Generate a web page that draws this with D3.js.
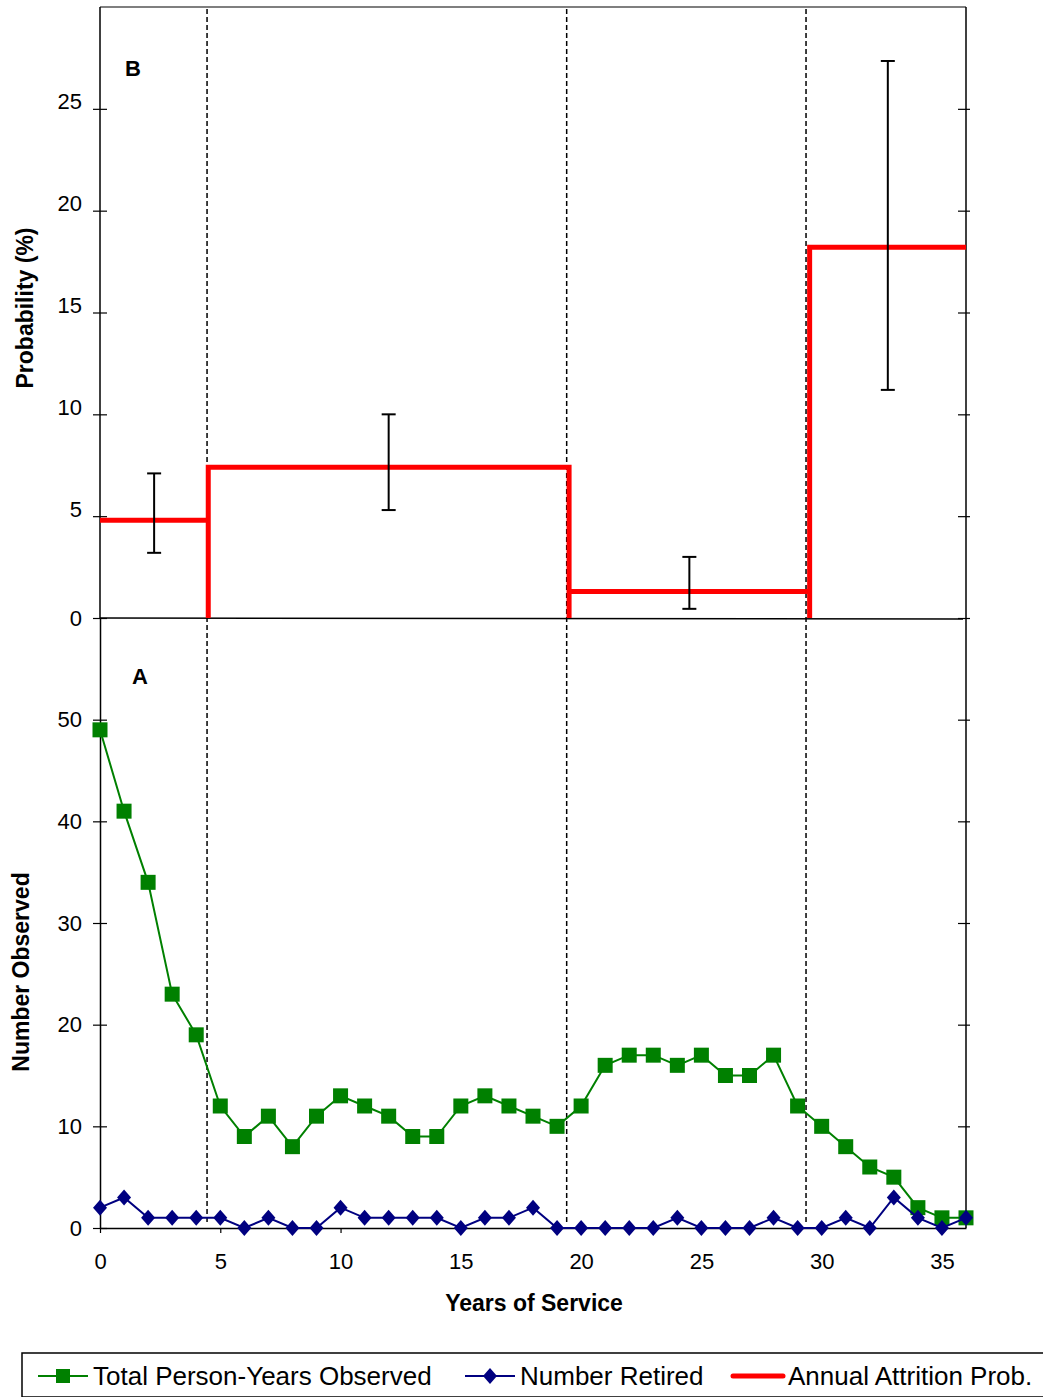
<!DOCTYPE html>
<html><head><meta charset="utf-8">
<script src="https://cdn.jsdelivr.net/npm/d3@7"></script>
<style>
html,body{margin:0;padding:0;background:#fff;}
svg{display:block;font-family:"Liberation Sans",Arial,sans-serif;}
</style></head>
<body>
<svg id="c" width="1043" height="1397"></svg>
<script>
// ---- data ----
const years = [0,1,2,3,4,5,6,7,8,9,10,11,12,13,14,15,16,17,18,19,20,21,22,23,24,25,26,27,28,29,30,31,32,33,34,35,36];
const personYears = [49,41,34,23,19,12,9,11,8,11,13,12,11,9,9,12,13,12,11,10,12,16,17,17,16,17,15,15,17,12,10,8,6,5,2,1,1];
const retired = [2,3,1,1,1,1,0,1,0,0,2,1,1,1,1,0,1,1,2,0,0,0,0,0,1,0,0,0,1,0,0,1,0,3,1,0,1];
const intervalStart = [0,4.5,19.5,29.5];
const intervalEnd = [4.5,19.5,29.5,36];
const attrition = [4.8,7.4,1.3,18.2];
const ciLow = [3.2,5.3,0.45,11.2];
const ciHigh = [7.1,10.0,3.0,27.35];
const dividers = [4.45,19.4,29.35];
const probTicks = [0,5,10,15,20,25];
const countTicks = [0,10,20,30,40,50];
const yearTicks = [0,5,10,15,20,25,30,35];
const legendLabels = ["Total Person-Years Observed","Number Retired","Annual Attrition Prob."];

// ---- scales ----
const svg = d3.select("#c");
const x = d3.scaleLinear().domain([0,36]).range([100,966]);
const yTop = d3.scaleLinear().domain([0,30]).range([618,7]);
const yBot = d3.scaleLinear().domain([0,60]).range([1228,618]);
const GREEN = "#008000", NAVY = "#000080", RED = "#ff0000";
const TICKFONT = 22;

// frame lines
svg.append("line").attr("x1",x(0)).attr("x2",x(36)).attr("y1",yTop(30)).attr("y2",yTop(30)).attr("stroke","#000").attr("stroke-width",1.2);
svg.append("line").attr("x1",x(36)).attr("x2",x(36)).attr("y1",yTop(30)).attr("y2",yBot(0)).attr("stroke","#000").attr("stroke-width",1.5);

function styleAxis(g){
  g.select(".domain").attr("stroke","#000").attr("stroke-width",1.5);
  g.selectAll(".tick line").attr("stroke","#000").attr("stroke-width",1.2);
  g.selectAll(".tick text").attr("font-size",TICKFONT).attr("fill","#000").attr("font-family","Liberation Sans, Arial, sans-serif");
}
const axTop = svg.append("g").attr("transform",`translate(${x(0)},0)`)
  .call(d3.axisLeft(yTop).tickValues(probTicks).tickSize(7).tickSizeOuter(0).tickPadding(11));
styleAxis(axTop);
axTop.selectAll(".tick line").attr("x1",7);
axTop.selectAll(".tick text").attr("y",d=> d===0?0:-7);
axTop.select(".domain").attr("d",`M0,${yTop(30)}V${yTop(0)}`);

const axBot = svg.append("g").attr("transform",`translate(${x(0)},0)`)
  .call(d3.axisLeft(yBot).tickValues(countTicks).tickSize(7).tickSizeOuter(0).tickPadding(11));
styleAxis(axBot);
axBot.selectAll(".tick line").attr("x1",7);

// right axis ticks
const rTop = svg.append("g").attr("transform",`translate(${x(36)},0)`)
  .call(d3.axisRight(yTop).tickValues(probTicks).tickSize(4).tickSizeOuter(0).tickFormat(""));
styleAxis(rTop); rTop.select(".domain").remove(); rTop.selectAll(".tick line").attr("x1",-8);
const rBot = svg.append("g").attr("transform",`translate(${x(36)},0)`)
  .call(d3.axisRight(yBot).tickValues(countTicks.filter(d=>d>0)).tickSize(4).tickSizeOuter(0).tickFormat(""));
styleAxis(rBot); rBot.select(".domain").remove(); rBot.selectAll(".tick line").attr("x1",-8);

const axX = svg.append("g").attr("transform",`translate(0,${yBot(0)})`)
  .call(d3.axisBottom(x).tickValues(yearTicks).tickSize(5).tickSizeOuter(0).tickPadding(20));
styleAxis(axX);

// top panel baseline
svg.append("line").attr("x1",x(0)).attr("x2",x(36)-3).attr("y1",yTop(0)).attr("y2",yTop(0)+1).attr("stroke","#000").attr("stroke-width",1.5);

// dividers
svg.append("g").selectAll("line").data(dividers).join("line")
  .attr("x1",d=>x(d)).attr("x2",d=>x(d)).attr("y1",yTop(30)+2).attr("y2",yBot(0)-6)
  .attr("stroke","#000").attr("stroke-width",1.5).attr("stroke-dasharray","5,3");

// red step line (verticals only where a step rises from zero)
const redG = svg.append("g");
attrition.forEach((v,i)=>{
  let pts;
  if (i % 2 === 1) pts = [[intervalStart[i],0],[intervalStart[i],v],[intervalEnd[i],v],[intervalEnd[i],0]];
  else if (i === attrition.length-1) pts = [[intervalStart[i],0],[intervalStart[i],v],[intervalEnd[i],v]];
  else pts = [[intervalStart[i],v],[intervalEnd[i],v]];
  if (i === attrition.length-1 && i % 2 === 1) pts = pts.slice(0,3);
  redG.append("path").attr("d",d3.line().x(d=>x(d[0])).y(d=>yTop(d[1]))(pts))
    .attr("fill","none").attr("stroke",RED).attr("stroke-width",5).attr("stroke-linejoin","miter");
});

// error bars
const eb = svg.append("g").attr("stroke","#000").attr("stroke-width",2);
attrition.forEach((v,i)=>{
  const cx = x((intervalStart[i]+intervalEnd[i])/2);
  eb.append("line").attr("x1",cx).attr("x2",cx).attr("y1",yTop(ciLow[i])).attr("y2",yTop(ciHigh[i]));
  eb.append("line").attr("x1",cx-7).attr("x2",cx+7).attr("y1",yTop(ciLow[i])).attr("y2",yTop(ciLow[i]));
  eb.append("line").attr("x1",cx-7).attr("x2",cx+7).attr("y1",yTop(ciHigh[i])).attr("y2",yTop(ciHigh[i]));
});

// green series
const lineG = d3.line().x((d,i)=>x(years[i])).y(d=>yBot(d));
svg.append("path").attr("d",lineG(personYears)).attr("fill","none").attr("stroke",GREEN).attr("stroke-width",2);
svg.append("g").selectAll("rect").data(personYears).join("rect")
  .attr("x",(d,i)=>x(years[i])-7.5).attr("y",d=>yBot(d)-7.5).attr("width",15).attr("height",15).attr("fill",GREEN);

// navy series
svg.append("path").attr("d",lineG(retired)).attr("fill","none").attr("stroke",NAVY).attr("stroke-width",2);
const diamond = "M0,-8L7,0L0,8L-7,0Z";
svg.append("g").selectAll("path").data(retired).join("path")
  .attr("d",diamond).attr("transform",(d,i)=>`translate(${x(years[i])},${yBot(d)})`).attr("fill",NAVY);

// labels
svg.append("text").attr("x",133).attr("y",76).attr("text-anchor","middle").attr("font-weight","bold").attr("font-size",22).text("B");
svg.append("text").attr("x",140).attr("y",684).attr("text-anchor","middle").attr("font-weight","bold").attr("font-size",22).text("A");
svg.append("text").attr("transform","translate(33,308) rotate(-90)").attr("text-anchor","middle").attr("font-weight","bold").attr("font-size",23).text("Probability (%)");
svg.append("text").attr("transform","translate(29,972) rotate(-90)").attr("text-anchor","middle").attr("font-weight","bold").attr("font-size",23).text("Number Observed");
svg.append("text").attr("x",534).attr("y",1311).attr("text-anchor","middle").attr("font-weight","bold").attr("font-size",23).text("Years of Service");

// legend
svg.append("rect").attr("x",22).attr("y",1353).attr("width",1030).attr("height",44).attr("fill","#fff").attr("stroke","#000").attr("stroke-width",1.5);
const ly = 1376;
const lg = svg.append("g");
const itemX = [38,465,733];
lg.append("line").attr("x1",itemX[0]).attr("x2",itemX[0]+50).attr("y1",ly).attr("y2",ly).attr("stroke",GREEN).attr("stroke-width",2);
lg.append("rect").attr("x",itemX[0]+25-7).attr("y",ly-7).attr("width",14).attr("height",14).attr("fill",GREEN);
lg.append("line").attr("x1",itemX[1]).attr("x2",itemX[1]+50).attr("y1",ly).attr("y2",ly).attr("stroke",NAVY).attr("stroke-width",2);
lg.append("path").attr("d",diamond).attr("transform",`translate(${itemX[1]+25},${ly})`).attr("fill",NAVY);
lg.append("line").attr("x1",itemX[2]).attr("x2",itemX[2]+50).attr("y1",ly).attr("y2",ly).attr("stroke",RED).attr("stroke-width",5).attr("stroke-linecap","round");
lg.selectAll("text").data(legendLabels).join("text")
  .attr("x",(d,i)=>itemX[i]+55).attr("y",ly+9).attr("font-size",26).attr("fill","#000").text(d=>d);
</script>
</body></html>
